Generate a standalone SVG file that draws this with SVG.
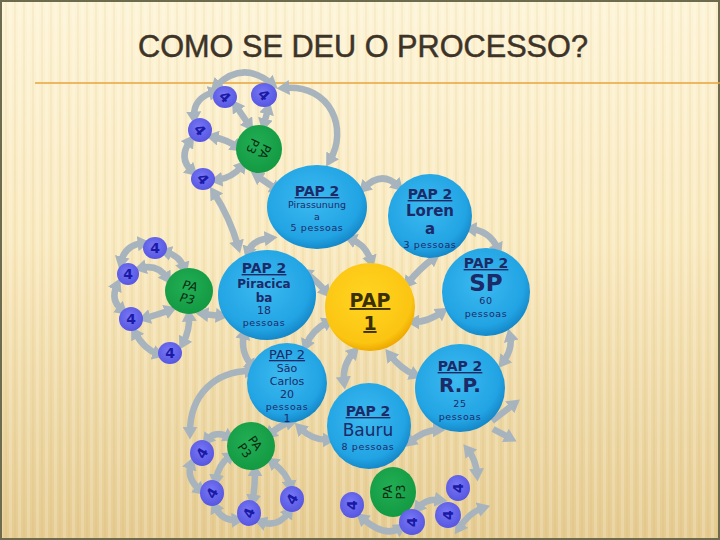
<svg xmlns="http://www.w3.org/2000/svg" width="720" height="540" viewBox="0 0 720 540">
<defs>
<linearGradient id="bg" x1="0" y1="0" x2="0" y2="1">
<stop offset="0" stop-color="#fdf4d6"/>
<stop offset="0.45" stop-color="#f9e9be"/>
<stop offset="1" stop-color="#e5cb90"/>
</linearGradient>
<pattern id="stripes" width="9" height="540" patternUnits="userSpaceOnUse">
<rect x="0" y="0" width="3" height="540" fill="#ffffff" opacity="0.18"/>
<rect x="5" y="0" width="2" height="540" fill="#b89a5a" opacity="0.08"/>
</pattern>
<radialGradient id="blue" cx="0.45" cy="0.4" r="0.6">
<stop offset="0" stop-color="#3cbaf0"/>
<stop offset="0.8" stop-color="#22a4e4"/>
<stop offset="1" stop-color="#1589ca"/>
</radialGradient>
<radialGradient id="yellow" cx="0.45" cy="0.4" r="0.6">
<stop offset="0" stop-color="#ffd522"/>
<stop offset="0.85" stop-color="#fbc512"/>
<stop offset="1" stop-color="#eeaa00"/>
</radialGradient>
<radialGradient id="green" cx="0.45" cy="0.4" r="0.6">
<stop offset="0" stop-color="#22ae54"/>
<stop offset="1" stop-color="#139a42"/>
</radialGradient>
<radialGradient id="purple" cx="0.45" cy="0.4" r="0.6">
<stop offset="0" stop-color="#7878f6"/>
<stop offset="1" stop-color="#5656e2"/>
</radialGradient>
<marker id="ah" viewBox="0 0 12 14" refX="5" refY="7" markerWidth="13" markerHeight="15" markerUnits="userSpaceOnUse" orient="auto-start-reverse">
<path d="M0,0 L12,7 L0,14 z" fill="#a8b4bd"/>
</marker>
<style>
.arr{fill:none;stroke:#a8b4bd;stroke-width:6.5;marker-start:url(#ah);marker-end:url(#ah)}
.arr1{fill:none;stroke:#a8b4bd;stroke-width:6.5;marker-end:url(#ah)}
.bn{fill:url(#blue)}
.yn{fill:url(#yellow)}
.gn{fill:url(#green)}
.pn{fill:url(#purple)}
.t{font-family:"DejaVu Sans","Liberation Sans",sans-serif;fill:#1d2a68;text-anchor:middle}
.h{font-weight:bold;font-size:14px;text-decoration:underline}
.s{font-size:9.5px;letter-spacing:0.6px}
.b{font-weight:bold}
.gt{font-family:"DejaVu Sans","Liberation Sans",sans-serif;font-size:12px;fill:#0b2a12;text-anchor:middle}
.f{font-family:"DejaVu Sans","Liberation Sans",sans-serif;font-size:14px;font-weight:bold;fill:#1a1aa6;text-anchor:middle}
</style>
</defs>
<rect width="720" height="540" fill="url(#bg)"/>
<rect width="720" height="540" fill="url(#stripes)"/>
<rect x="1" y="1" width="718" height="538" fill="none" stroke="#6d6b4e" stroke-width="2"/>
<line x1="35" y1="83" x2="720" y2="83" stroke="#e8a43c" stroke-width="1.5"/>
<text x="138" y="57" textLength="450" lengthAdjust="spacingAndGlyphs" font-family="'Liberation Sans Narrow','Liberation Sans',sans-serif" font-size="31" fill="#3d3327" stroke="#3d3327" stroke-width="0.5">COMO SE DEU O PROCESSO?</text>

<g id="connectors">
<path class="arr" d="M216,86 Q243,60 272,84"/>
<path class="arr" d="M284,88 C332,84 348,130 330,160"/>
<path class="arr" d="M214,92 Q193,98 194,117"/>
<path class="arr" d="M190,141 Q178,158 192,171"/>
<path class="arr" d="M236,106 L249,125"/>
<path class="arr" d="M268,109 L264,124"/>
<path class="arr" d="M213,137 Q228,140 237,147"/>
<path class="arr" d="M217,180 Q232,178 242,166"/>
<path class="arr" d="M257,176 L276,189"/>
<path class="arr" d="M270,238 Q252,240 248,252"/>
<path class="arr" d="M214,193 Q230,218 238,246"/>
<path class="arr" d="M364,188 Q382,170 398,186"/>
<path class="arr" d="M351,239 Q366,245 371,261"/>
<path class="arr" d="M471,229 Q490,231 498,249"/>
<path class="arr" d="M408,283 Q420,268 434,258"/>
<path class="arr" d="M414,322 Q428,322 442,312"/>
<path class="arr" d="M306,273 Q318,282 326,292"/>
<path class="arr" d="M328,322 Q312,330 306,345"/>
<path class="arr" d="M354,352 Q342,365 344,382"/>
<path class="arr" d="M390,355 Q401,369 415,375"/>
<path class="arr" d="M510,336 Q513,349 503,362"/>
<path class="arr" d="M410,442 Q424,430 438,430"/>
<path class="arr" d="M244,334 Q240,352 252,366"/>
<path class="arr" d="M300,428 Q312,440 328,440"/>
<path class="arr" d="M250,371 C215,371 190,395 190,432"/>
<path class="arr" d="M143,243 Q125,245 121,262"/>
<path class="arr" d="M117,285 Q110,300 122,310"/>
<path class="arr" d="M135,333 Q145,350 158,354"/>
<path class="arr" d="M166,252 Q180,256 184,268"/>
<path class="arr" d="M141,268 Q158,264 167,278"/>
<path class="arr" d="M145,318 Q160,314 170,310"/>
<path class="arr" d="M183,343 Q190,330 189,316"/>
<path class="arr" d="M203,314 L221,316"/>
<path class="arr" d="M207,440 Q215,430 229,437"/>
<path class="arr" d="M191,464 Q186,478 200,490"/>
<path class="arr" d="M215,507 Q222,521 237,520"/>
<path class="arr" d="M261,522 Q278,528 289,512"/>
<path class="arr" d="M216,480 Q218,465 230,456"/>
<path class="arr" d="M253,500 Q255,485 255,471"/>
<path class="arr" d="M290,486 Q288,474 272,462"/>
<path class="arr" d="M270,434 Q280,425 291,422"/>
<path class="arr" d="M362,518 Q385,538 400,528"/>
<path class="arr" d="M418,508 Q426,498 440,500"/>
<path class="arr" d="M459,528 Q470,512 483,508"/>
<path class="arr" d="M468,450 Q476,460 477,474"/>
<path class="arr1" d="M492,421 L514,404"/>
<path class="arr1" d="M493,429 L510,438"/>
</g>

<g id="pirassununga">
<ellipse class="bn" cx="317" cy="207" rx="50" ry="42"/>
<text class="t h" x="317" y="196">PAP 2</text>
<text class="t" x="317" y="208" font-size="9.5">Pirassunung</text>
<text class="t" x="317" y="220" font-size="9.5">a</text>
<text class="t s" x="317" y="231">5 pessoas</text>
</g>
<g id="lorena">
<ellipse class="bn" cx="430" cy="216" rx="42" ry="42"/>
<text class="t h" x="430" y="199">PAP 2</text>
<text class="t b" x="430" y="216" font-size="15">Loren</text>
<text class="t b" x="430" y="234" font-size="15">a</text>
<text class="t s" x="430" y="248">3 pessoas</text>
</g>
<g id="piracicaba">
<ellipse class="bn" cx="267" cy="295" rx="49" ry="45"/>
<text class="t h" x="264" y="273">PAP 2</text>
<text class="t b" x="264" y="288" font-size="12">Piracica</text>
<text class="t b" x="264" y="302" font-size="12">ba</text>
<text class="t" x="264" y="314" font-size="11">18</text>
<text class="t s" x="264" y="326">pessoas</text>
</g>
<g id="pap1">
<ellipse class="yn" cx="370" cy="307" rx="45" ry="44"/>
<text class="t b" x="370" y="307" font-size="19" style="fill:#3a3000;text-decoration:underline">PAP</text>
<text class="t b" x="370" y="330" font-size="19" style="fill:#3a3000;text-decoration:underline">1</text>
</g>
<g id="sp">
<ellipse class="bn" cx="486" cy="292" rx="44" ry="44"/>
<text class="t h" x="486" y="268">PAP 2</text>
<text class="t b" x="486" y="291" font-size="23">SP</text>
<text class="t s" x="486" y="304">60</text>
<text class="t s" x="486" y="317">pessoas</text>
</g>
<g id="saocarlos">
<ellipse class="bn" cx="287" cy="383" rx="40" ry="40"/>
<text class="t" x="287" y="359" font-size="13" style="text-decoration:underline">PAP 2</text>
<text class="t" x="287" y="372" font-size="11">São</text>
<text class="t" x="287" y="385" font-size="11">Carlos</text>
<text class="t" x="287" y="398" font-size="11">20</text>
<text class="t s" x="287" y="410">pessoas</text>
<text class="t" x="287" y="422" font-size="11">1</text>
</g>
<g id="bauru">
<ellipse class="bn" cx="369" cy="426" rx="42" ry="43"/>
<text class="t h" x="368" y="416" font-size="13">PAP 2</text>
<text class="t" x="368" y="436" font-size="17">Bauru</text>
<text class="t s" x="368" y="450">8 pessoas</text>
</g>
<g id="rp">
<ellipse class="bn" cx="460" cy="388" rx="45" ry="44"/>
<text class="t h" x="460" y="371">PAP 2</text>
<text class="t b" x="460" y="392" font-size="20">R.P.</text>
<text class="t s" x="460" y="407">25</text>
<text class="t s" x="460" y="420">pessoas</text>
</g>

<g id="pap3-top">
<ellipse class="gn" cx="259" cy="149" rx="23" ry="24"/>
<g transform="translate(259,149) rotate(115)">
<text class="gt" x="0" y="-2">PA</text>
<text class="gt" x="0" y="11">P3</text>
</g>
</g>
<g id="pap3-left">
<ellipse class="gn" cx="189" cy="291" rx="24" ry="23"/>
<g transform="translate(189,291) rotate(12)">
<text class="gt" x="0" y="-1" font-style="italic">PA</text>
<text class="gt" x="0" y="12" font-style="italic">P3</text>
</g>
</g>
<g id="pap3-bottomleft">
<ellipse class="gn" cx="251" cy="446" rx="24" ry="24"/>
<g transform="translate(251,446) rotate(55)">
<text class="gt" x="0" y="-1">PA</text>
<text class="gt" x="0" y="12">P3</text>
</g>
</g>
<g id="pap3-bottom">
<ellipse class="gn" cx="393" cy="492" rx="23" ry="25"/>
<g transform="translate(393,492) rotate(-90)">
<text class="gt" x="0" y="-1">PA</text>
<text class="gt" x="0" y="12">P3</text>
</g>
</g>

<g id="n4-t1"><ellipse class="pn" cx="225" cy="97" rx="12" ry="11"/><text class="f" transform="translate(225,97) rotate(45)" y="5">4</text></g>
<g id="n4-t2"><ellipse class="pn" cx="264" cy="95" rx="13" ry="12"/><text class="f" transform="translate(264,95) rotate(45)" y="5">4</text></g>
<g id="n4-t3"><ellipse class="pn" cx="200" cy="130" rx="12" ry="12"/><text class="f" transform="translate(200,130) rotate(50)" y="5">4</text></g>
<g id="n4-t4"><ellipse class="pn" cx="203" cy="179" rx="12" ry="11"/><text class="f" transform="translate(203,179) rotate(50)" y="5">4</text></g>

<g id="n4-l1"><ellipse class="pn" cx="155" cy="248" rx="12" ry="11"/><text class="f" x="155" y="253">4</text></g>
<g id="n4-l2"><ellipse class="pn" cx="128" cy="274" rx="11" ry="11"/><text class="f" x="128" y="279">4</text></g>
<g id="n4-l3"><ellipse class="pn" cx="131" cy="319" rx="12" ry="12"/><text class="f" x="131" y="324">4</text></g>
<g id="n4-l4"><ellipse class="pn" cx="170" cy="353" rx="12" ry="11"/><text class="f" x="170" y="358">4</text></g>

<g id="n4-b1"><ellipse class="pn" cx="202" cy="453" rx="12" ry="13"/><text class="f" transform="translate(202,453) rotate(-60)" y="5">4</text></g>
<g id="n4-b2"><ellipse class="pn" cx="212" cy="493" rx="12" ry="13"/><text class="f" transform="translate(212,493) rotate(-60)" y="5">4</text></g>
<g id="n4-b3"><ellipse class="pn" cx="249" cy="513" rx="12" ry="13"/><text class="f" transform="translate(249,513) rotate(-70)" y="5">4</text></g>
<g id="n4-b4"><ellipse class="pn" cx="292" cy="499" rx="12" ry="13"/><text class="f" transform="translate(292,499) rotate(-60)" y="5">4</text></g>

<g id="n4-r1"><ellipse class="pn" cx="352" cy="505" rx="12" ry="13"/><text class="f" transform="translate(352,505) rotate(-90)" y="5">4</text></g>
<g id="n4-r2"><ellipse class="pn" cx="412" cy="522" rx="13" ry="13"/><text class="f" transform="translate(412,522) rotate(-90)" y="5">4</text></g>
<g id="n4-r3"><ellipse class="pn" cx="458" cy="488" rx="12" ry="13"/><text class="f" transform="translate(458,488) rotate(-90)" y="5">4</text></g>
<g id="n4-r4"><ellipse class="pn" cx="448" cy="515" rx="13" ry="13"/><text class="f" transform="translate(448,515) rotate(-90)" y="5">4</text></g>
</svg>
